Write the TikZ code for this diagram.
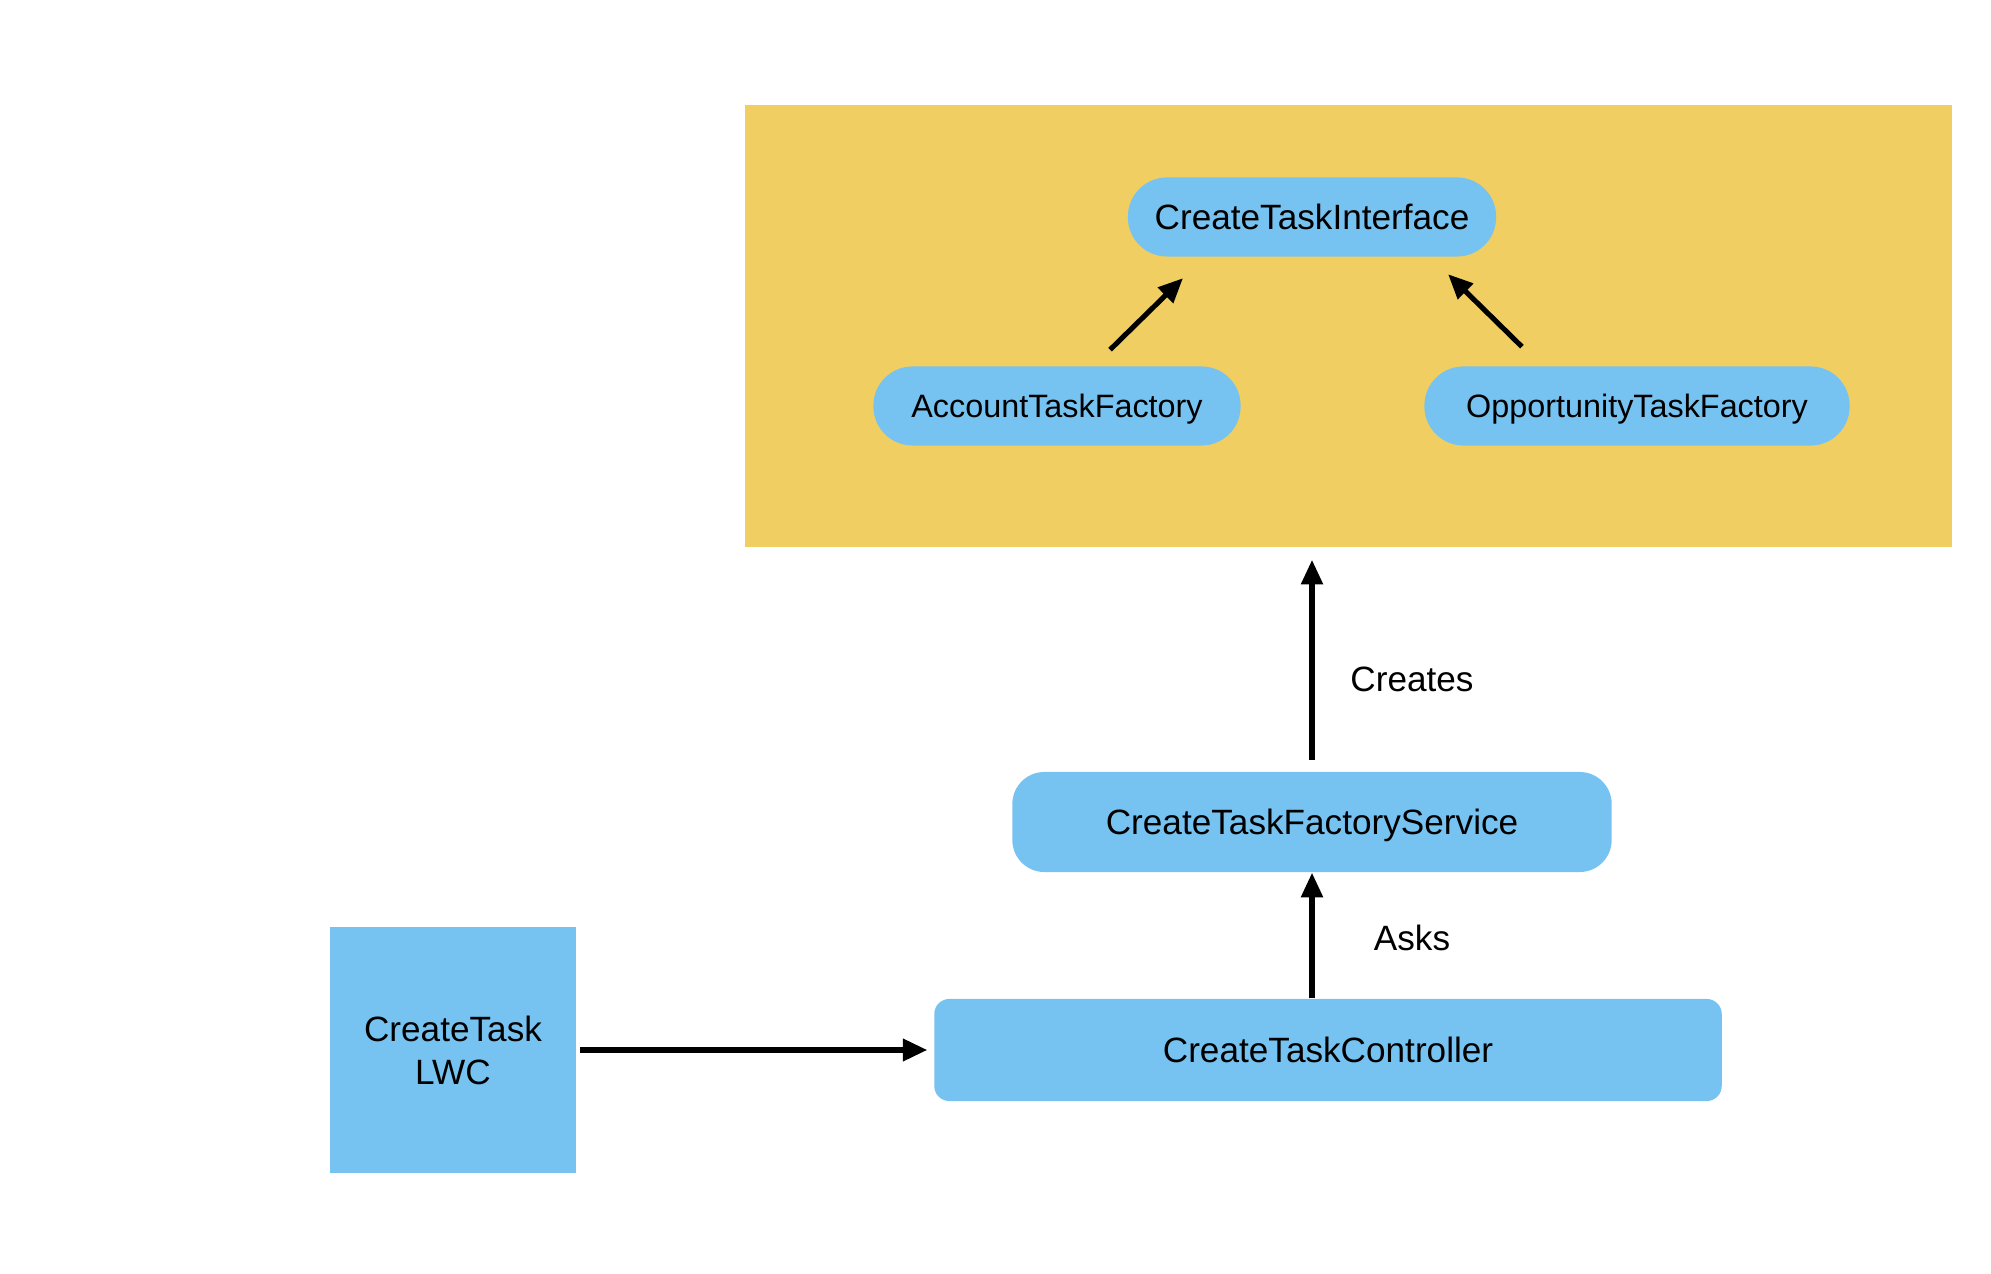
\documentclass[tikz,border=0pt]{standalone}
\usepackage{fontspec}
\setmainfont{Liberation Sans}
\usetikzlibrary{arrows.meta}
\definecolor{boxblue}{RGB}{118,195,241}
\definecolor{boxyellow}{RGB}{240,206,97}
\begin{document}
\begin{tikzpicture}[x=0.01cm,y=-0.01cm,
  pill/.style={fill=boxblue,inner sep=0pt,minimum height=0.79cm,rounded corners=0.39cm,text depth=0pt,font=\fontsize{9.2pt}{11pt}\selectfont},
  block/.style={fill=boxblue,inner sep=0pt,text depth=0pt,font=\fontsize{10pt}{12.2pt}\selectfont},
  link/.style={line width=1.45pt,-{Triangle[length=7pt,width=6pt]}},
  lbl/.style={font=\fontsize{10pt}{12pt}\selectfont}]
\useasboundingbox (0,0) rectangle (1991,1274);

\node[fill=boxyellow,minimum width=12.07cm,minimum height=4.42cm] (group) at (1348.5,326) {};

\node[pill,minimum width=3.68cm,font=\fontsize{10pt}{12pt}\selectfont] (iface) at (1312,217) {CreateTaskInterface};
\node[pill,minimum width=3.67cm] (acc) at (1057,406) {AccountTaskFactory};
\node[pill,minimum width=4.25cm] (opp) at (1637,406) {OpportunityTaskFactory};

\node[block,minimum width=5.99cm,minimum height=1cm,rounded corners=0.32cm] (svc) at (1312,822) {CreateTaskFactoryService};
\node[block,minimum width=7.87cm,minimum height=1.02cm,rounded corners=0.15cm] (ctrl) at (1328,1050) {CreateTaskController};
\node[block,minimum width=2.45cm,minimum height=2.46cm,align=center] (lwc) at (453,1050) {CreateTask\\LWC};

\draw[link] ([xshift=0.53cm,yshift=0.16cm]acc.north) -- ([xshift=-1.29cm,yshift=-0.21cm]iface.south);
\draw[link] ([xshift=-1.15cm,yshift=0.19cm]opp.north) -- ([xshift=1.36cm,yshift=-0.17cm]iface.south);

\draw[link,shorten <=0.11cm,shorten >=0.12cm] (svc.north) -- (svc.north |- group.south);
\draw[link] (svc.south |- ctrl.north) -- (svc.south);
\draw[link,line width=1.75pt,shorten <=0.04cm,shorten >=0.06cm] (lwc.east) -- (ctrl.west);

\node[lbl] (creates) at (1412,679) {Creates};
\node[lbl] (asks) at (1412,938) {Asks};
\end{tikzpicture}
\end{document}
